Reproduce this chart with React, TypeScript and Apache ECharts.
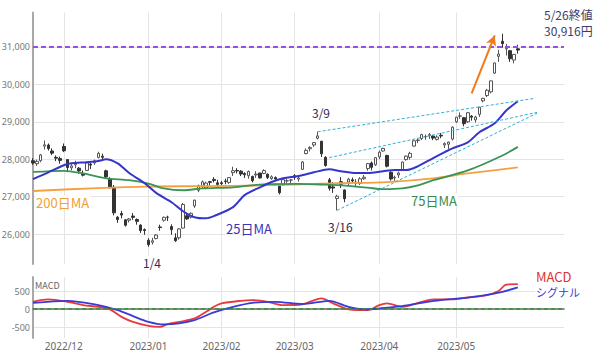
import React, { useEffect, useRef } from "react";
import * as echarts from "echarts";

// ---- trading days (categories) ----
const nov22 = [18, 21, 22, 24, 25, 28, 29, 30];
const dec22 = [1, 2, 5, 6, 7, 8, 9, 12, 13, 14, 15, 16, 19, 20, 21, 22, 23, 26, 27, 28, 29, 30];
const jan23 = [4, 5, 6, 10, 11, 12, 13, 16, 17, 18, 19, 20, 23, 24, 25, 26, 27, 30, 31];
const feb23 = [1, 2, 3, 6, 7, 8, 9, 10, 13, 14, 15, 16, 17, 20, 21, 22, 24, 27, 28];
const mar23 = [1, 2, 3, 6, 7, 8, 9, 10, 13, 14, 15, 16, 17, 20, 22, 23, 24, 27, 28, 29, 30, 31];
const apr23 = [3, 4, 5, 6, 7, 10, 11, 12, 13, 14, 17, 18, 19, 20, 21, 24, 25, 26, 27, 28];
const may23 = [1, 2, 8, 9, 10, 11, 12, 15, 16, 17, 18, 19, 22, 23, 24, 25, 26];
const monthDays: [string, number[]][] = [
  ["2022/11", nov22], ["2022/12", dec22], ["2023/01", jan23], ["2023/02", feb23],
  ["2023/03", mar23], ["2023/04", apr23], ["2023/05", may23],
];
const emptySlots = 12;

// ---- OHLC ----
const opens = [
  27960, 27880, 27960, 28350, 28380, 28220, 28050, 28020,
  28340, 27990, 27770, 27850, 27760, 27620, 27700, 27870, 27900, 28050, 28080, 27690, 27470, 27250, 26450, 26550, 26380, 26370, 26480, 26390, 26240, 26120,
  25834, 25780, 25880, 26190, 26370, 26450, 26200, 25900, 25900, 26160, 26490, 26450, 26750, 27170, 27280, 27230, 27400, 27460, 27370,
  27370, 27420, 27380, 27640, 27700, 27680, 27620, 27560, 27540, 27580, 27630, 27620, 27600, 27480, 27510, 27290, 27320, 27420, 27440,
  27560, 27470, 27730, 28150, 28280, 28380, 28560, 28480, 28050, 27450, 27260, 26950, 27400, 27180, 27390, 27450, 27370, 27350, 27480, 27750, 27900, 27850,
  28060, 28220, 28100, 27650, 27500, 27580, 27720, 27990, 28050, 28350, 28500, 28550, 28600, 28630, 28620, 28530, 28640, 28380, 28400, 28540,
  29000, 29150, 29110, 29000, 29150, 29050, 29200, 29560, 29700, 29800, 30300, 30750, 31150, 30950, 30900, 30650, 30950,
];
const closes = [
  27899, 27944, 28115, 28383, 28283, 28162, 28027, 27968,
  28226, 27777, 27820, 27885, 27686, 27574, 27901, 27842, 27954, 28156, 28051, 27527, 27237, 26568, 26387, 26507, 26235, 26405, 26447, 26340, 26093, 26094,
  25717, 25820, 25974, 26175, 26446, 26449, 26119, 25822, 26138, 26791, 26405, 26553, 26906, 27299, 27395, 27363, 27382, 27433, 27327,
  27346, 27402, 27509, 27693, 27685, 27606, 27584, 27670, 27427, 27602, 27501, 27696, 27513, 27531, 27473, 27104, 27453, 27423, 27445,
  27516, 27498, 27927, 28237, 28309, 28444, 28623, 28143, 27832, 27222, 27229, 27010, 27333, 26945, 27466, 27419, 27385, 27476, 27518, 27883, 27782, 28041,
  28188, 28287, 27813, 27472, 27518, 27633, 27923, 28082, 28156, 28493, 28514, 28658, 28606, 28657, 28564, 28593, 28620, 28416, 28457, 28856,
  29123, 29157, 28949, 29242, 29122, 29126, 29388, 29626, 29842, 30093, 30573, 30808, 31086, 30957, 30682, 30801, 30916,
];
const lows = [
  27850, 27820, 27920, 28260, 28230, 28110, 27950, 27880,
  28190, 27660, 27700, 27760, 27610, 27540, 27690, 27740, 27850, 28020, 27980, 27500, 27220, 26500, 26300, 26420, 26200, 26310, 26380, 26250, 26030, 25980,
  25661, 25720, 25860, 26090, 26330, 26350, 25980, 25790, 25850, 26150, 26380, 26420, 26700, 27120, 27210, 27200, 27300, 27380, 27230,
  27300, 27330, 27340, 27550, 27620, 27550, 27500, 27480, 27380, 27500, 27480, 27600, 27470, 27450, 27440, 27060, 27290, 27370, 27360,
  27450, 27400, 27720, 28130, 28210, 28330, 28530, 28060, 27800, 27160, 27100, 26632, 27230, 26850, 27300, 27380, 27280, 27310, 27450, 27690, 27700, 27820,
  28000, 28200, 27780, 27430, 27420, 27500, 27710, 27960, 27990, 28340, 28430, 28510, 28520, 28540, 28510, 28500, 28560, 28300, 28270, 28500,
  28970, 29080, 28880, 28970, 29030, 28980, 29130, 29520, 29660, 29760, 30280, 30600, 30980, 30770, 30600, 30560, 30820,
];
const highs = [
  28030, 27990, 28140, 28500, 28420, 28290, 28100, 28070,
  28420, 28000, 27870, 27960, 27790, 27700, 27940, 27900, 27990, 28200, 28150, 27720, 27520, 27310, 26480, 26620, 26400, 26430, 26560, 26420, 26260, 26150,
  25890, 25900, 26000, 26250, 26470, 26490, 26260, 26020, 26160, 26830, 26550, 26580, 26920, 27320, 27430, 27400, 27420, 27520, 27450,
  27420, 27480, 27520, 27800, 27760, 27710, 27650, 27700, 27560, 27680, 27640, 27730, 27620, 27570, 27540, 27300, 27460, 27480, 27470,
  27600, 27540, 27950, 28290, 28350, 28460, 28734, 28490, 28080, 27500, 27390, 27050, 27520, 27190, 27500, 27510, 27470, 27520, 27580, 27900, 27940, 28060,
  28230, 28310, 28120, 27680, 27560, 27670, 27940, 28100, 28200, 28520, 28560, 28680, 28660, 28700, 28650, 28640, 28700, 28450, 28470, 28880,
  29130, 29250, 29130, 29260, 29180, 29160, 29400, 29640, 29880, 30100, 30580, 30924, 31352, 31080, 30920, 30810, 31060,
];

// ---- moving averages [trading-day index, value] ----
const ma25 = [
  [0, 27470], [4, 27650], [8, 27840], [10, 27890], [14, 27920], [17, 27950], [19, 28000], [22, 27890],
  [25, 27630], [29, 27360], [32, 27100], [36, 26850], [39, 26610], [42, 26450], [45, 26420], [47, 26480],
  [52, 26720], [55, 27040], [59, 27250], [62, 27390], [65, 27490], [69, 27550], [73, 27650], [77, 27730],
  [80, 27680], [84, 27630], [87, 27630], [91, 27680], [94, 27710], [97, 27710], [100, 27810], [104, 28030],
  [107, 28190], [109, 28290], [113, 28450], [116, 28720], [120, 28960], [123, 29300], [126, 29550],
];
const ma75 = [
  [0, 27660], [8, 27690], [13, 27620], [19, 27490], [25, 27440], [30, 27350], [34, 27220], [39, 27170],
  [44, 27220], [52, 27250], [60, 27330], [69, 27340], [76, 27320], [80, 27300], [87, 27240], [91, 27200],
  [96, 27220], [100, 27300], [104, 27440], [113, 27700], [122, 28100], [126, 28330],
];
const ma200 = [
  [0, 27150], [17, 27230], [30, 27270], [44, 27280], [60, 27300], [70, 27330], [80, 27360], [92, 27390],
  [104, 27490], [113, 27620], [126, 27780],
];

// ---- MACD [trading-day index, value] ----
const macdLine = [
  [0, 203], [4, 269], [9, 203], [13, 111], [17, 64], [20, -8], [23, -214], [26, -353], [30, -464], [33, -492],
  [35, -417], [38, -353], [42, -258], [45, -75], [47, 64], [49, 158], [54, 231], [57, 250], [61, 203], [65, 111],
  [70, 135], [75, 297], [78, 158], [82, -8], [85, -28], [87, -28], [90, 111], [92, 158], [96, 64], [101, 203],
  [104, 269], [109, 269], [113, 325], [118, 389], [121, 500], [123, 680], [126, 690],
];
const signalLine = [
  [0, 175], [9, 231], [17, 111], [22, -28], [26, -194], [30, -353], [34, -425], [38, -397], [42, -306], [47, -92],
  [52, 64], [57, 175], [63, 203], [70, 140], [77, 231], [82, 64], [87, -8], [90, 19], [96, 83], [101, 175],
  [106, 250], [111, 297], [116, 361], [122, 481], [126, 603],
];

// ---- annotation anchors (trading-day index, price) ----
const resistanceLine = [[74, 28734], [130, 29620]];
const supportLine = [[79, 26632], [131, 29230]];
const innerLine = [[77, 28043], [131, 29253]];
const arrowLine = [[113.8, 29760], [119.5, 31307]];
const targetLevel = 31000;

const yTickFont = "Noto Sans";
const jpFont = "'Noto Sans CJK JP', 'Noto Sans', sans-serif";

export default function App() {
  const ref = useRef<HTMLDivElement>(null);

  useEffect(() => {
    if (!ref.current) return;
    const chart = echarts.init(ref.current, undefined, { renderer: "svg" });

    const tradingDates = monthDays.flatMap(([m, ds]) =>
      ds.map((d) => `${m}/${String(d).padStart(2, "0")}`)
    );
    const categories = [...tradingDates, ...Array(emptySlots).fill("")];
    const monthStart = new Set<number>();
    for (let i = 1; i < tradingDates.length; i++) {
      if (tradingDates[i].slice(0, 7) !== tradingDates[i - 1].slice(0, 7)) monthStart.add(i);
    }
    const isMonthStart = (index: number) => monthStart.has(index);
    const candles = tradingDates.map((_, i) => [opens[i], closes[i], lows[i], highs[i]]);

    const gridLine = { color: "#e4e4e4", width: 1 };
    const trendStyle = { color: "#2bb3d6", type: [3, 2], width: 1 };

    const txt = (text: string, x: number, y: number, fill: string, size: number, boxed = true) => ({
      type: "text",
      x,
      y,
      z: 100,
      style: {
        text, fill, font: `${size}px ${jpFont}`, verticalAlign: "middle", align: "left",
        ...(boxed ? { backgroundColor: "#ffffff", padding: [0, 1] } : {}),
      },
    });

    const option: any = {
      animation: false,
      grid: [
        { left: 33, right: 36, top: 12.5, height: 251.5, outerBoundsMode: "none" },
        { left: 33, right: 36, top: 277, height: 61, outerBoundsMode: "none" },
      ],
      xAxis: [
        {
          type: "category", gridIndex: 0, data: categories, boundaryGap: false,
          axisLine: { show: false }, axisTick: { show: false }, axisLabel: { show: false },
          splitLine: { show: true, interval: isMonthStart, lineStyle: gridLine },
        },
        {
          type: "category", gridIndex: 1, data: categories, boundaryGap: false,
          axisLine: { show: true, lineStyle: { color: "#6a6a6a", width: 1.5 } },
          axisTick: { show: false },
          axisLabel: {
            interval: isMonthStart,
            formatter: (v: string) => v.slice(0, 7), color: "#666", fontSize: 10,
            fontFamily: yTickFont, margin: 3,
          },
          splitLine: { show: true, interval: isMonthStart, lineStyle: gridLine },
        },
      ],
      yAxis: [
        {
          type: "value", gridIndex: 0, min: 25200, max: 31920, scale: true,
          minInterval: 1000, maxInterval: 1000, splitNumber: 6,
          axisLine: { show: true, lineStyle: { color: "#a8a8a8", width: 2 } },
          axisTick: { show: false },
          axisLabel: {
            showMinLabel: false, showMaxLabel: false, color: "#777", fontSize: 9,
            fontFamily: yTickFont, margin: 3,
            formatter: (v: number) => v.toLocaleString("en-US"),
          },
          splitLine: { show: true, showMinLine: false, showMaxLine: false, lineStyle: gridLine },
        },
        {
          type: "value", gridIndex: 1, min: -800, max: 890,
          minInterval: 500, maxInterval: 500, splitNumber: 3,
          axisLine: { show: true, lineStyle: { color: "#a8a8a8", width: 2 } },
          axisTick: { show: false },
          axisLabel: {
            showMinLabel: false, showMaxLabel: false, color: "#777", fontSize: 9,
            fontFamily: yTickFont, margin: 3,
          },
          splitLine: { show: true, showMinLine: false, showMaxLine: false, lineStyle: gridLine },
        },
      ],
      series: [
        {
          type: "candlestick", xAxisIndex: 0, yAxisIndex: 0, data: candles, barWidth: 3,
          itemStyle: { color: "#ffffff", color0: "#333333", borderColor: "#555555", borderColor0: "#333333", borderWidth: 1 },
          markLine: {
            silent: true, symbol: "none", label: { show: false }, animation: false,
            data: [
              { yAxis: targetLevel, lineStyle: { color: "#9b4fe0", type: [5, 3], width: 2 } },
              [
                { coord: resistanceLine[0], lineStyle: trendStyle },
                { coord: resistanceLine[1] },
              ],
              [
                { coord: supportLine[0], lineStyle: trendStyle },
                { coord: supportLine[1] },
              ],
              [
                { coord: innerLine[0], lineStyle: trendStyle },
                { coord: innerLine[1] },
              ],
              [
                { coord: arrowLine[0], symbol: "none", lineStyle: { color: "#f07a1c", width: 2, type: "solid" } },
                { coord: arrowLine[1], symbol: "arrow", symbolSize: [8, 10] },
              ],
            ],
          },
        },
        {
          type: "line", xAxisIndex: 0, yAxisIndex: 0, data: ma200, showSymbol: false, smooth: 0.3,
          lineStyle: { color: "#f5a040", width: 1.8 },
        },
        {
          type: "line", xAxisIndex: 0, yAxisIndex: 0, data: ma75, showSymbol: false, smooth: 0.3,
          lineStyle: { color: "#3a9456", width: 1.8 },
        },
        {
          type: "line", xAxisIndex: 0, yAxisIndex: 0, data: ma25, showSymbol: false, smooth: 0.3,
          lineStyle: { color: "#3535cc", width: 2 },
        },
        {
          type: "line", xAxisIndex: 1, yAxisIndex: 1, data: macdLine, showSymbol: false, smooth: 0.3,
          lineStyle: { color: "#e83a3a", width: 1.8 },
          markLine: {
            silent: true, symbol: "none", label: { show: false }, animation: false,
            data: [{ yAxis: 0, lineStyle: { color: "#2a9a2a", type: [4, 3], width: 1.5 } }],
          },
        },
        {
          type: "line", xAxisIndex: 1, yAxisIndex: 1, data: signalLine, showSymbol: false, smooth: 0.3,
          lineStyle: { color: "#3a3ad8", width: 1.8 },
        },
      ],
      graphic: [
        txt("5/26終値", 543, 14, "#3d3d6b", 12),
        txt("30,916円", 543, 30, "#3d3d6b", 12),
        txt("3/9", 311, 112, "#2d2d50", 12),
        txt("3/16", 327, 226, "#2d2d50", 12),
        txt("1/4", 142, 262, "#2d2d50", 12),
        txt("200日MA", 35, 202, "#f0a030", 13),
        txt("25日MA", 225, 228, "#3535b8", 13),
        txt("75日MA", 410, 200, "#3a8a4a", 13),
        txt("MACD", 535, 276, "#e03030", 13),
        txt("シグナル", 535, 292, "#3a3ad0", 11),
        txt("MACD", 35, 285, "#666", 9, false),
      ],
    };

    chart.setOption(option);
    return () => chart.dispose();
  }, []);

  return (
    <div
      ref={ref}
      style={{ position: "absolute", left: 0, top: 0, width: 600, height: 352 }}
    />
  );
}
